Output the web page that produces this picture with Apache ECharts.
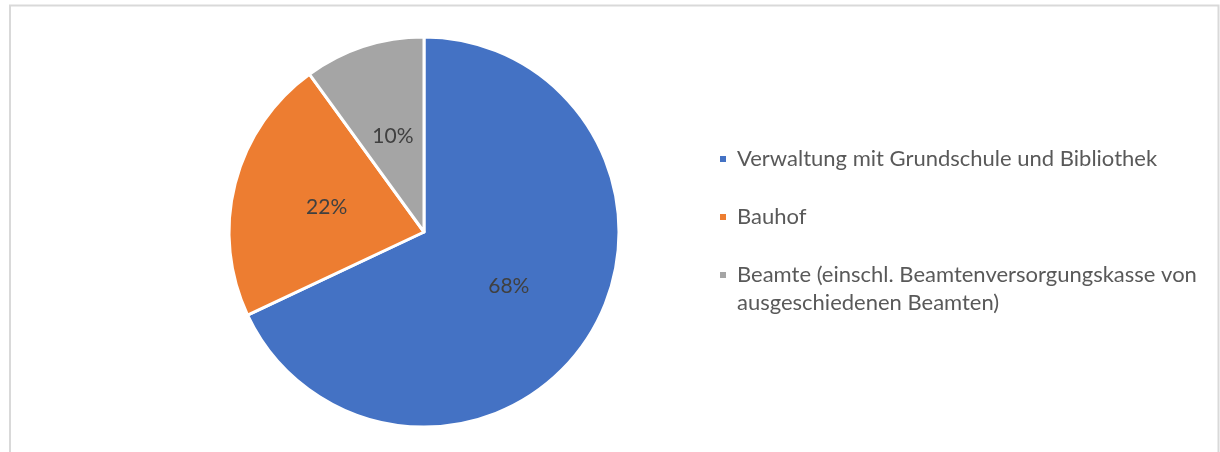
<!DOCTYPE html>
<html>
<head>
<meta charset="utf-8">
<script src="https://cdn.jsdelivr.net/npm/echarts@6/dist/echarts.min.js"></script>
<style>
html,body{margin:0;padding:0;background:#fff;}
#chart{width:1220px;height:452px;}
</style>
</head>
<body>
<div id="chart"></div>
<script>
const categories = [
  'Verwaltung mit Grundschule und Bibliothek',
  'Bauhof',
  'Beamte (einschl. Beamtenversorgungskasse von ausgeschiedenen Beamten)'
];
const values = [68, 22, 10];
const colors = ['#4472C4', '#ED7D31', '#A5A5A5'];

const FONT = 'Lato';
const chart = echarts.init(document.getElementById('chart'), null, {renderer: 'canvas'});
const legendText = {
  fontFamily: FONT, fontSize: 22, color: '#595959', lineHeight: 28, padding: [0, 0, 0, 5]
};
const option = {
  animation: false,
  graphic: [{
    type: 'rect', silent: true,
    shape: {x: 10, y: 5.5, width: 1208.5, height: 500},
    style: {fill: 'none', stroke: '#d9d9d9', lineWidth: 2}
  }],
  legend: [{
    orient: 'vertical', left: 718, top: 145, padding: 0,
    itemWidth: 8, itemHeight: 8, itemGap: 30, icon: 'rect',
    selectedMode: false,
    textStyle: legendText,
    data: [categories[0], categories[1]]
  }, {
    orient: 'vertical', left: 718, top: 233, padding: 0,
    itemWidth: 8, itemHeight: 8, icon: 'rect',
    selectedMode: false,
    textStyle: legendText,
    formatter: function (n) {
      return ' \n' + n.replace(' von ', ' von\n');
    },
    data: [categories[2]]
  }],
  series: [{
    type: 'pie',
    center: [424, 232],
    radius: 195,
    startAngle: 90,
    clockwise: true,
    percentPrecision: 0,
    color: colors,
    itemStyle: {borderColor: '#ffffff', borderWidth: 3},
    label: {
      position: 'inside',
      formatter: '{d}%',
      fontFamily: FONT, fontSize: 21, color: '#404040'
    },
    labelLine: {show: false},
    emphasis: {disabled: true},
    data: categories.map((c, i) => ({name: c, value: values[i]}))
  }]
};
chart.setOption(option);
</script>
</body>
</html>
